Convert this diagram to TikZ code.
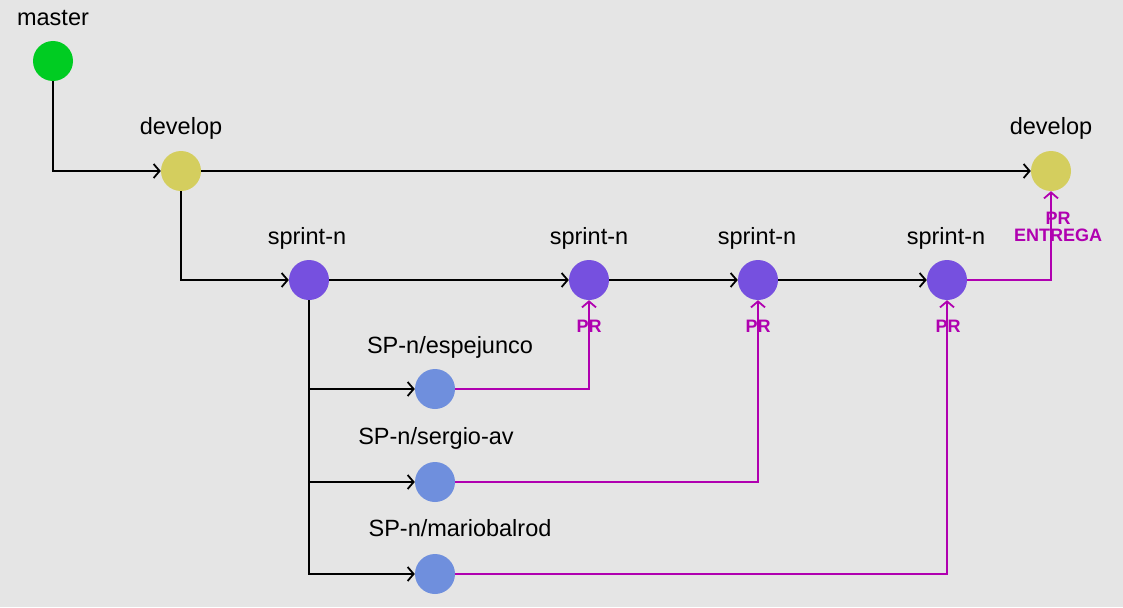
\documentclass[tikz,border=0pt]{standalone}
\usepackage{fontspec}
\setmainfont{Liberation Sans}
\usetikzlibrary{arrows.meta}
\definecolor{bg}{HTML}{E5E5E5}
\definecolor{cmaster}{HTML}{00CC22}
\definecolor{cdev}{HTML}{D4CE5E}
\definecolor{csprint}{HTML}{7650DF}
\definecolor{csp}{HTML}{6F8FDD}
\definecolor{cpr}{HTML}{B000B0}
\tikzset{
  commit/.style={circle, minimum size=40pt, inner sep=0pt},
  lbl/.style={font=\fontsize{23.5}{26}\selectfont, text=black, inner sep=0pt},
  prlbl/.style={font=\fontsize{18}{20}\selectfont\bfseries, text=cpr, inner sep=0pt, align=center},
  flow/.style={line width=1.8pt, draw=black, -{Straight Barb[length=6pt,width=14pt,line width=1.8pt]}},
  prflow/.style={line width=1.8pt, draw=cpr, -{Straight Barb[length=6pt,width=14pt,line width=1.8pt]}}
}
\begin{document}
\begin{tikzpicture}[x=1pt,y=-1pt]
\fill[bg] (0,0) rectangle (1123,607);
\useasboundingbox (0,0) rectangle (1123,607);
% nodes
\node[commit, fill=cmaster] (m) at (53,61) {};
\node[commit, fill=cdev] (d1) at (181,171) {};
\node[commit, fill=cdev] (d2) at (1051,171) {};
\node[commit, fill=csprint] (s1) at (309,280) {};
\node[commit, fill=csprint] (s2) at (589,280) {};
\node[commit, fill=csprint] (s3) at (758,280) {};
\node[commit, fill=csprint] (s4) at (947,280) {};
\node[commit, fill=csp] (b1) at (435,389) {};
\node[commit, fill=csp] (b2) at (435,482) {};
\node[commit, fill=csp] (b3) at (435,574) {};
% labels
\node[lbl] (lm) at (53,18) {master};
\node[lbl] (ld1) at (181,128) {develop};
\node[lbl] (ld2) at (1051,128) {develop};
\node[lbl] (ls1) at (307,238) {sprint-n};
\node[lbl] (ls2) at (589,238) {sprint-n};
\node[lbl] (ls3) at (757,238) {sprint-n};
\node[lbl] (ls4) at (946,238) {sprint-n};
\node[lbl] (lb1) at (450,347) {SP-n/espejunco};
\node[lbl] (lb2) at (436,438) {SP-n/sergio-av};
\node[lbl] (lb3) at (460,528) {SP-n/mariobalrod};
% black connectors
\draw[flow] (m.south) |- (d1.west);
\draw[flow] (d1.east) -- (d2.west);
\draw[flow] (d1.south) |- (s1.west);
\draw[flow] (s1.east) -- (s2.west);
\draw[flow] (s2.east) -- (s3.west);
\draw[flow] (s3.east) -- (s4.west);
\draw[flow] (s1.south) |- (b1.west);
\draw[flow] (s1.south) |- (b2.west);
\draw[flow] (s1.south) |- (b3.west);
% PR connectors
\draw[prflow] (b1.east) -| (s2.south);
\draw[prflow] (b2.east) -| (s3.south);
\draw[prflow] (b3.east) -| (s4.south);
\draw[prflow] (s4.east) -| (d2.south);
% PR labels
\node[prlbl] (p1) at (589,326) {PR};
\node[prlbl] (p2) at (758,326) {PR};
\node[prlbl] (p3) at (948,326) {PR};
\node[prlbl] (p4) at (1058,227) {PR\\[-3pt]ENTREGA};
\end{tikzpicture}
\end{document}
